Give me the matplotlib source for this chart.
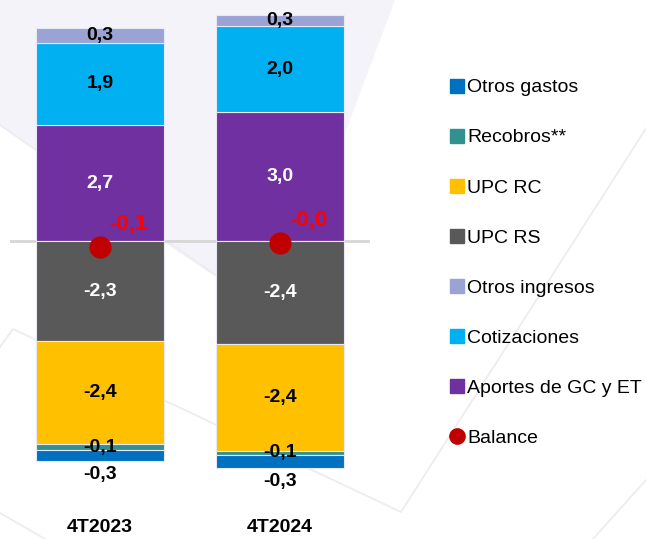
import numpy as np
import matplotlib
matplotlib.use("Agg")
import matplotlib.pyplot as plt
from matplotlib.lines import Line2D
from matplotlib.patches import Polygon

# data (billones)
periods = ["4T2023", "4T2024"]
aportes = [2.67, 2.97]
cotizaciones = [1.88, 1.96]
otros_ingresos = [0.34, 0.26]
upc_rs = [-2.29, -2.36]
upc_rc = [-2.36, -2.44]
recobros = [-0.14, -0.11]
otros_gastos = [-0.26, -0.29]
balance = [-0.12, -0.03]

W, H = 646, 539
plt.rcParams['font.family'] = ['Liberation Sans Narrow', 'Liberation Sans', 'DejaVu Sans']

fig = plt.figure(figsize=(W / 100, H / 100), dpi=100, facecolor="white")


def px(pts):
    # pixel (from top-left) -> figure fraction, only for the background decoration
    return [(a / W, 1 - b / H) for a, b in pts]


# decorative background: lavender panel and thin grey lines
fig.add_artist(Polygon(px([(0, 0), (395, 0), (276, 317), (165, 243), (0, 125)]),
                       closed=True, transform=fig.transFigure, facecolor="#F4F3F9",
                       edgecolor="none", zorder=0))
for pts in ([(0, 125), (276, 317)],
            [(0, 347), (13, 329), (401, 512), (728, 0)],
            [(593, 539), (646, 480)],
            [(0, 513), (45, 539)]):
    xs, ys = zip(*px(pts))
    fig.add_artist(Line2D(xs, ys, transform=fig.transFigure, color="#EDEDF0", lw=1.3, zorder=0))

ax = fig.add_axes([10 / W, 0, 360 / W, 1])
ax.patch.set_alpha(0)
ax.set_xlim(-0.5, 1.5)
ax.set_ylim(-(H - 241.3) / 43.6, 241.3 / 43.6)
ax.axis("off")

x = np.arange(len(periods))
w = 0.715


def fmt(v):
    return f"{v:.1f}".replace(".", ",")


ax.axhline(0, color="#D6D6D6", lw=2, zorder=1)

pos = [("Aportes de GC y ET", aportes, "#7030A0", "white"),
       ("Cotizaciones", cotizaciones, "#00B0F0", "black"),
       ("Otros ingresos", otros_ingresos, "#9BA3D4", "black")]
neg = [("UPC RS", upc_rs, "#595959", "white"),
       ("UPC RC", upc_rc, "#FFC000", "black"),
       ("Recobros**", recobros, "#31918F", "black"),
       ("Otros gastos", otros_gastos, "#0070C0", "black")]

handles = {}
for stack in (pos, neg):
    base = np.zeros(len(periods))
    for name, vals, col, tcol in stack:
        vals = np.array(vals)
        ax.bar(x, vals, w, bottom=base, color=col, edgecolor="#E8E8F4", linewidth=0.8, zorder=2)
        for i in range(len(periods)):
            if name == "Otros gastos":
                ty = base[i] + vals[i] - 0.3
            else:
                ty = base[i] + vals[i] / 2
            ax.text(x[i], ty, fmt(vals[i]), ha="center", va="center", fontsize=14,
                    fontweight="bold", color=tcol, zorder=4)
        handles[name] = Line2D([], [], ls="", marker="s", markersize=9.5, color=col)
        base = base + vals

ax.plot(x, balance, ls="", marker="o", markersize=15, color="#C00000", zorder=5)
for i in range(len(periods)):
    ax.annotate(fmt(balance[i]), (x[i], balance[i]), xytext=(20, 16), textcoords="offset points",
                ha="center", va="center", fontsize=16, fontweight="bold", color="#FF0000", zorder=6)
    ax.text(x[i], -(527 - 241.3) / 43.6, periods[i], ha="center", va="center",
            fontsize=14, fontweight="bold", clip_on=False)

handles["Balance"] = Line2D([], [], ls="", marker="o", markersize=11, color="#C00000")
order = ["Otros gastos", "Recobros**", "UPC RC", "UPC RS", "Otros ingresos",
         "Cotizaciones", "Aportes de GC y ET", "Balance"]
fig.legend([handles[k] for k in order], order, loc="upper left",
           bbox_to_anchor=(441 / W, 1 - 71 / H), frameon=False, fontsize=14,
           labelspacing=1.67, handletextpad=0.15, handlelength=0.8, borderaxespad=0)

fig.savefig("out.png", dpi=100, facecolor="white")
